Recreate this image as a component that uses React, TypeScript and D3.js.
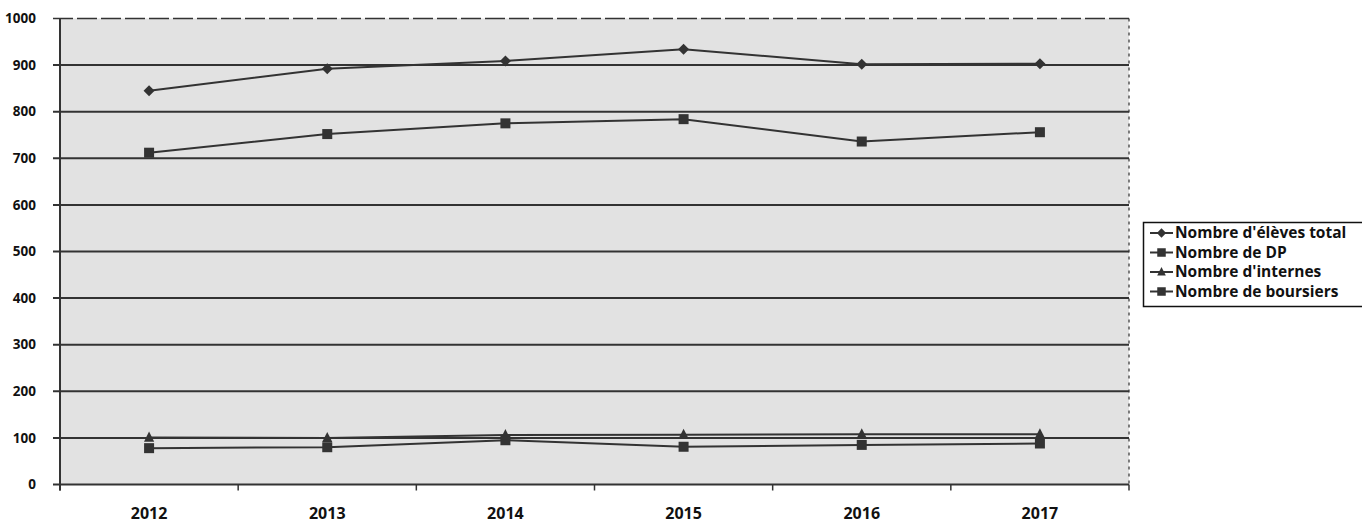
import React from "react";
import * as d3 from "d3";

const years = ["2012", "2013", "2014", "2015", "2016", "2017"];
const eleves = [845, 892, 909, 934, 902, 903];
const dp = [712, 752, 775, 784, 736, 756];
const internes = [101, 100, 106, 107, 108, 108];
const boursiers = [78, 80, 95, 81, 85, 88];
const yTicks = [0, 100, 200, 300, 400, 500, 600, 700, 800, 900, 1000];

const seriesNames = ["Nombre d'élèves total", "Nombre de DP", "Nombre d'internes", "Nombre de boursiers"];
const seriesValues = [eleves, dp, internes, boursiers];
const seriesMarkers = ["diamond", "square", "triangle", "square"];

const W = 1362, H = 527;
const L = 60, R = 1129, T = 18.5, B = 484.5;
const ink = "#333";

function Marker({ type, x, y, s = 1 }: { type: string; x: number; y: number; s?: number }) {
  if (type === "diamond") {
    const r = 5.5 * s;
    return <path d={`M${x},${y - r}L${x + r},${y}L${x},${y + r}L${x - r},${y}Z`} fill={ink} />;
  }
  if (type === "triangle") {
    const r = 6 * s;
    return <path d={`M${x},${y - r}L${x + r * 0.85},${y + r * 0.7}L${x - r * 0.85},${y + r * 0.7}Z`} fill={ink} />;
  }
  const r = 5 * s;
  return <rect x={x - r} y={y - r} width={2 * r} height={2 * r} fill={ink} />;
}

export default function App() {
  const x = d3.scaleBand<string>().domain(years).range([L, R]);
  const cx = (d: string) => (x(d) as number) + x.bandwidth() / 2;
  const y = d3.scaleLinear().domain([0, 1000]).range([B, T]);
  const line = d3.line<number>().x((_, i) => cx(years[i])).y((v) => y(v));
  const bounds = d3.range(years.length + 1).map((i) => L + i * x.bandwidth());
  const font = "'Open Sans', Lato, sans-serif";

  return (
    <svg width={W} height={H} style={{ position: "absolute", left: 0, top: 0 }}>
      <rect x={0} y={0} width={W} height={H} fill="#fff" />
      <rect x={L} y={T} width={R - L} height={B - T} fill="#e2e2e2" />
      <line x1={R} x2={R} y1={T} y2={B} stroke="#555" strokeWidth={1.5} strokeDasharray="3 4" />
      {yTicks.map((t) => (
        <g key={t}>
          <line x1={L - 7} x2={R} y1={y(t)} y2={y(t)} stroke={ink} strokeWidth={t === 1000 ? 1.5 : 2} strokeDasharray={t === 1000 ? "20 4" : undefined} />
          <text x={36} y={y(t)} dy="0.35em" textAnchor="end" fontFamily={font} fontWeight={700} fontSize={13.5} fill="#111">
            {t}
          </text>
        </g>
      ))}
      <line x1={L} x2={L} y1={T} y2={B + 6} stroke={ink} strokeWidth={2} />
      {bounds.map((b, i) => (
        <line key={i} x1={b} x2={b} y1={B} y2={B + 6} stroke={ink} strokeWidth={1.5} />
      ))}
      {years.map((yr) => (
        <text key={yr} x={cx(yr)} y={519} textAnchor="middle" fontFamily={font} fontWeight={700} fontSize={16} fill="#111">
          {yr}
        </text>
      ))}
      {seriesValues.map((vals, si) => (
        <g key={si}>
          <path d={line(vals) || ""} fill="none" stroke={ink} strokeWidth={2} />
          {vals.map((v, i) => (
            <Marker key={i} type={seriesMarkers[si]} x={cx(years[i])} y={y(v)} />
          ))}
        </g>
      ))}
      <rect x={1143.5} y={222.5} width={230} height={84} fill="#fff" stroke="#111" strokeWidth={1.5} />
      {seriesNames.map((n, i) => {
        const yy = 233 + i * 19.5;
        return (
          <g key={n}>
            <line x1={1150} x2={1173} y1={yy} y2={yy} stroke={ink} strokeWidth={2} />
            <Marker type={seriesMarkers[i]} x={1161.5} y={yy} s={0.85} />
            <text x={1175} y={yy} dy="0.35em" fontFamily={font} fontWeight={700} fontSize={15.5} fill="#111">
              {n}
            </text>
          </g>
        );
      })}
    </svg>
  );
}
